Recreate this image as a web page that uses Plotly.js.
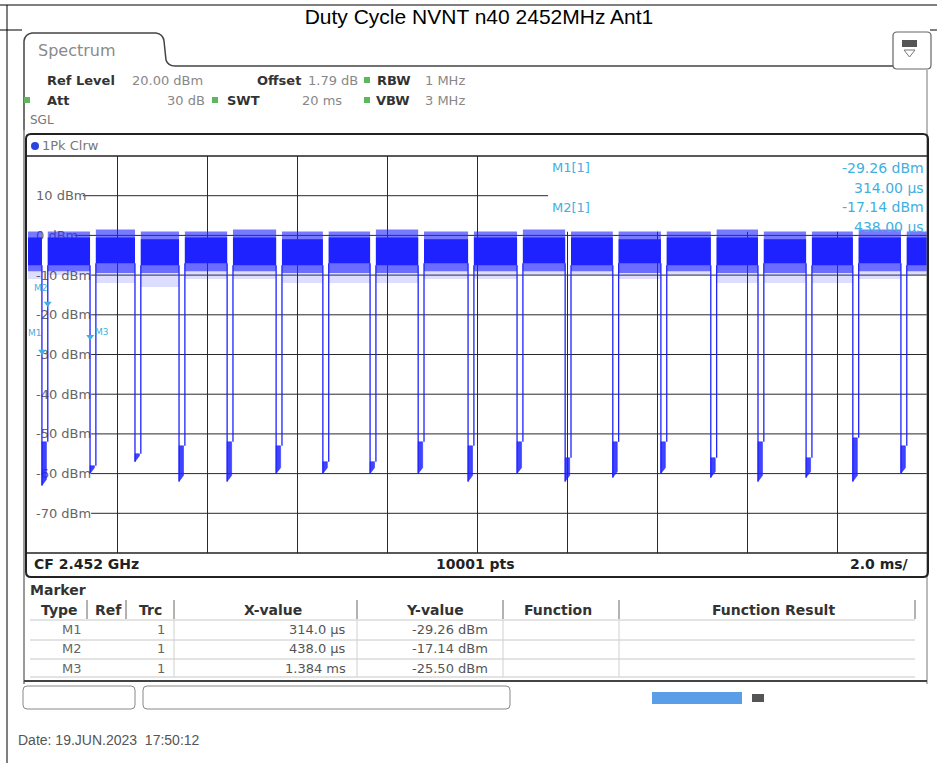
<!DOCTYPE html>
<html><head><meta charset="utf-8">
<script src="https://cdn.plot.ly/plotly-3.0.1.min.js"></script>
<style>html,body{margin:0;padding:0;background:#fff}#chart{width:937px;height:763px}</style>
</head><body><div id="chart"></div>
<script>
// ---------- data ----------
const titleText = 'Duty Cycle NVNT n40 2452MHz Ant1';
// burst-off gaps: falling edge / rising edge times (ms)
const gapFall = [0.31,1.38,2.38,3.36,4.43,5.52,6.56,7.61,8.68,9.79,10.88,11.95,13.01,14.08,15.19,16.24,17.31,18.35,19.42];
const gapRise = [0.44,1.51,2.51,3.49,4.56,5.65,6.69,7.74,8.81,9.92,11.01,12.08,13.14,14.21,15.32,16.37,17.44,18.48,19.55];
// level inside each gap (dBm)
const gapLow  = [-63,-60,-57,-62,-62,-60,-60,-60,-60,-62,-60,-62,-61,-60,-61,-62,-61,-62,-60];
const gapHigh = [-52,-58,-55,-53,-52,-53,-57,-57,-52,-53,-52,-56,-52,-52,-56,-52,-56,-51,-53];
// burst envelope (20 bursts), dBm
const burstPeakHigh = [1,1,1.5,1,1,1.5,1,1,1.5,1,1,1.5,1,1,1,1.5,1,1,1.5,1];
const burstCoreHigh = [-0.5,-0.5,-0.5,-1,-0.5,-0.5,-1,-0.5,-0.5,-1,-0.5,-0.5,-0.5,-1,-0.5,-0.5,-1,-0.5,-0.5,-0.5];
const burstCoreLow  = [-7.5,-7.5,-7,-7.5,-7,-7.5,-7.5,-7,-7.5,-7,-7.5,-7,-7.5,-7,-7.5,-7.5,-7,-7.5,-7,-7.5];
const burstPeakLow  = [-9,-9,-9.5,-9.5,-9,-9,-9.5,-9.5,-9.5,-9,-9,-9,-9,-9.5,-9,-9.5,-9.5,-9.5,-9,-9];
const burstSpikeLow = [-11,-10,-12,-13,-11,-11,-12,-12,-12,-11,-11,-10,-10,-11,-10,-12,-12,-12,-11,-10];
// axis
const yTickVals = [10,0,-10,-20,-30,-40,-50,-60,-70];
const xSpanMs = [0,20];
const yRange = [-80,20];
// markers
const markerNames = ['M1','M2','M3'];
const markerX = [0.314,0.438,1.384];   // ms
const markerY = [-29.26,-17.14,-25.50]; // dBm
const markerTrc = [1,1,1];

// ---------- helpers ----------
const FF = 'DejaVu Sans, sans-serif';
const L=28,R=927,T=156,B=553;
const px = X => (X-L)/(R-L);
const py = Y => (B-Y)/(B-T);
const ann = (X,Y,text,o={}) => ({xref:'paper',yref:'paper',x:px(X),y:py(Y),text,showarrow:false,
  xanchor:o.xa||'left',yanchor:'middle',font:{family:o.ff||FF,size:o.s||13,color:o.c||'#666'}});
const line = (X0,Y0,X1,Y1,c,w) => ({type:'line',xref:'paper',yref:'paper',x0:px(X0),y0:py(Y0),x1:px(X1),y1:py(Y1),line:{color:c,width:w},layer:'above'});
const rect = (X0,Y0,X1,Y1,fill,c,w) => ({type:'rect',xref:'paper',yref:'paper',x0:px(X0),y0:py(Y1),x1:px(X1),y1:py(Y0),fillcolor:fill,line:{color:c||'rgba(0,0,0,0)',width:w||0},layer:'above'});
function rrect(X0,Y0,X1,Y1,r,c,w,fill){
  const P=(X,Y)=>px(X)+','+py(Y);
  const d='M'+P(X0+r,Y0)+' L'+P(X1-r,Y0)+' Q'+P(X1,Y0)+' '+P(X1,Y0+r)+' L'+P(X1,Y1-r)+' Q'+P(X1,Y1)+' '+P(X1-r,Y1)+
    ' L'+P(X0+r,Y1)+' Q'+P(X0,Y1)+' '+P(X0,Y1-r)+' L'+P(X0,Y0+r)+' Q'+P(X0,Y0)+' '+P(X0+r,Y0)+' Z';
  return {type:'path',xref:'paper',yref:'paper',path:d,line:{color:c,width:w},fillcolor:fill||'rgba(0,0,0,0)',layer:'above'};
}
function pathShape(pts,c,w,fill){
  const d = pts.map((p,i)=>(i?(p[2]===undefined?'L':p[2]):'M')+px(p[0])+','+py(p[1])).join(' ');
  return {type:'path',xref:'paper',yref:'paper',path:d,line:{color:c,width:w},fillcolor:fill||'rgba(0,0,0,0)',layer:'above'};
}

// ---------- traces ----------
const nB = burstCoreHigh.length;
const bStart = k => k===0 ? xSpanMs[0] : gapRise[k-1];
const bEnd   = k => k===nB-1 ? xSpanMs[1] : gapFall[k];
function bandXY(hi,lo){
  const x=[],y=[];
  for(let k=0;k<nB;k++){
    x.push(bStart(k),bStart(k),bEnd(k),bEnd(k),bStart(k),null);
    y.push(lo[k],hi[k],hi[k],lo[k],lo[k],null);
  }
  return {x,y};
}
const BLUE='#1e22ff';
const CYAN='#3fb0e0';
const spike = bandXY(burstCoreHigh,burstSpikeLow);
const peak = bandXY(burstPeakHigh,burstPeakLow);
const core = bandXY(burstCoreHigh,burstCoreLow);
const blobX=[],blobY=[],edgeX=[],edgeY=[];
for(let k=0;k<gapFall.length;k++){
  blobX.push(gapFall[k],gapRise[k]-0.03,gapRise[k]-0.03,gapFall[k],gapFall[k],null);
  blobY.push(gapHigh[k],gapHigh[k],gapLow[k]+1.5,gapLow[k],gapHigh[k],null);
  edgeX.push(gapFall[k],gapFall[k],null,gapRise[k],gapRise[k],null);
  edgeY.push(burstCoreLow[k],gapLow[k],null,gapHigh[k],burstCoreLow[k+1],null);
}
const band = (d,fc) => ({x:d.x,y:d.y,type:'scatter',mode:'lines',fill:'toself',fillcolor:fc,line:{width:0,color:BLUE},hoverinfo:'skip'});
const traces = [
  band(spike,'rgba(40,45,255,0.16)'),
  band(peak,'rgba(35,40,255,0.62)'),
  band(core,BLUE),
  {x:blobX,y:blobY,type:'scatter',mode:'lines',fill:'toself',fillcolor:'rgba(30,34,255,0.85)',line:{width:0.5,color:BLUE},hoverinfo:'skip'},
  {x:edgeX,y:edgeY,type:'scatter',mode:'lines',line:{width:1.3,color:BLUE},hoverinfo:'skip'},
  {x:markerX,y:markerY,type:'scatter',mode:'markers',marker:{symbol:'triangle-down',size:7,color:CYAN},hoverinfo:'skip'}
];

// ---------- layout ----------
const shapes = [];
// grid lines (horizontal) start right after their labels
yTickVals.forEach(v=>{
  const lbl = v+' dBm';
  const x0 = (33 + lbl.length*8.3 - L)/((R-L)/20);
  shapes.push({type:'line',xref:'x',yref:'y',x0:x0,x1:xSpanMs[1],y0:v,y1:v,line:{color:'#2a2a2a',width:1},layer:'between'});
});
// white area for marker info
shapes.push({type:'rect',xref:'x',yref:'y',x0:11.57,x1:xSpanMs[1],y0:0.9,y1:yRange[1],fillcolor:'#fff',line:{width:0},layer:'between'});
// page frame
shapes.push(line(0,5,937,5,'#000',1), line(7,5,7,763,'#000',1), line(0,30,22,30,'#000',1), line(930,30,937,30,'#000',1));
// tab
shapes.push(pathShape([[24,130],[24,41],[25,34,'Q'],[32,33,''],[156,33],[163,34,'Q'],[164,41,''],[166,60],[168,66,'Q'],[175,66,''],[894,66]],'#444',1.5));
shapes.push(line(24,130,24,684,'#555',1.2), line(927,70,927,684,'#777',1));
// icon
shapes.push(rrect(893,32,931,69,4,'#666',1.2,'#fff'), rect(902,40,917,47,'#555'), pathShape([[904,50],[915,50],[909.5,57],[904,50]],'#777',1));
// plot frame
shapes.push(rrect(26,134,928,577,5,'#222',2), line(26,156,928,156,'#222',1.5), line(26,553,928,553,'#222',1.5));
shapes.push({type:'circle',xref:'paper',yref:'paper',x0:px(31),x1:px(39),y0:py(150),y1:py(142),fillcolor:'#2b44e0',line:{width:0},layer:'above'});
// green indicator squares
[[367,80],[27,100],[215,100],[367,100]].forEach(p=>shapes.push(rect(p[0]-3,p[1]-3,p[0]+3,p[1]+3,'#5cb85c')));
// marker table
shapes.push(line(24,681,927,681,'#444',2));
[87,126,174,357,503,619,915].forEach(X=>shapes.push(line(X,600,X,619,'#666',1)));
[620,640,659,677].forEach(Y=>shapes.push(line(30,Y,915,Y,'#c8c8c8',1)));
[174,357,503,619].forEach(X=>shapes.push(line(X,620,X,677,'#d0d0d0',1)));
// bottom boxes
shapes.push(rrect(23,686,135,709,4,'#888',1), rrect(143,686,510,709,4,'#888',1));
shapes.push(rect(652,692,742,704,'#5b9ee8'), rect(752,694,764,702,'#555'));

const annotations = [
  ann(36,51,'Spectrum',{s:16,c:'#8a8a8a'}),
  ann(45,80,'<b>Ref Level</b>',{c:'#333'}), ann(130,80,'20.00 dBm',{c:'#888'}),
  ann(255,80,'<b>Offset</b>',{c:'#333'}), ann(306,80,'1.79 dB',{c:'#888'}),
  ann(375,80,'<b>RBW</b>',{c:'#333'}), ann(423,80,'1 MHz',{c:'#888'}),
  ann(45,100,'<b>Att</b>',{c:'#333'}), ann(207,100,'30 dB',{c:'#888',xa:'right'}),
  ann(225,100,'<b>SWT</b>',{c:'#333'}), ann(300,100,'20 ms',{c:'#888'}),
  ann(374,100,'<b>VBW</b>',{c:'#333'}), ann(423,100,'3 MHz',{c:'#888'}),
  ann(28,120,'SGL',{s:12,c:'#777'}),
  ann(40,145,'1Pk Clrw',{s:13,c:'#777'}),
  ann(32,564,'<b>CF 2.452 GHz</b>',{s:14,c:'#222'}),
  ann(475,564,'<b>10001 pts</b>',{s:14,c:'#222',xa:'center'}),
  ann(911,564,'<b>2.0 ms/</b>',{s:14,c:'#222',xa:'right'}),
  ann(28,590,'<b>Marker</b>',{s:14,c:'#333'}),
  ann(59,610,'<b>Type</b>',{s:14,c:'#333',xa:'center'}),
  ann(108,610,'<b>Ref</b>',{s:14,c:'#333',xa:'center'}),
  ann(150,610,'<b>Trc</b>',{s:14,c:'#333',xa:'center'}),
  ann(273,610,'<b>X-value</b>',{s:14,c:'#333',xa:'center'}),
  ann(435,610,'<b>Y-value</b>',{s:14,c:'#333',xa:'center'}),
  ann(558,610,'<b>Function</b>',{s:14,c:'#333',xa:'center'}),
  ann(773,610,'<b>Function Result</b>',{s:14,c:'#333',xa:'center'}),
  ann(16,740,'Date: 19.JUN.2023  17:50:12',{s:14,c:'#555',ff:'Liberation Sans, Arial, sans-serif'})
];
const fmtX = v => v < 1 ? (v*1000).toFixed(1)+' µs' : v.toFixed(3)+' ms';
// label placement for the on-trace marker names (pixels)
const mLabelPos = [{xa:'right',xs:2,ys:19},{xa:'right',xs:2,ys:15},{xa:'left',xs:3,ys:5}];
markerNames.forEach((n,i)=>{
  const Y = 629 + i*19.5;
  annotations.push(ann(84,Y,n,{s:13,c:'#666',xa:'right'}), ann(167,Y,String(markerTrc[i]),{s:13,c:'#666',xa:'right'}),
    ann(348,Y,fmtX(markerX[i]),{s:13,c:'#555',xa:'right'}), ann(490,Y,markerY[i].toFixed(2)+' dBm',{s:13,c:'#555',xa:'right'}));
  const p = mLabelPos[i];
  annotations.push({xref:'x',yref:'y',x:markerX[i],y:markerY[i],text:n,showarrow:false,xanchor:p.xa,yanchor:'middle',xshift:p.xs,yshift:p.ys,
    font:{family:FF,size:9,color:CYAN}});
});
// marker info at top right of the diagram (first two markers)
[0,1].forEach(i=>{
  const Y0 = 168 + i*39.5;
  annotations.push(ann(550,Y0,markerNames[i]+'[1]',{s:13,c:CYAN}),
    ann(926,Y0,markerY[i].toFixed(2)+' dBm',{s:14,c:CYAN,xa:'right'}),
    ann(926,Y0+19.5,(markerX[i]*1000).toFixed(2)+' µs',{s:14,c:CYAN,xa:'right'}));
});

const layout = {
  width:937,height:763,paper_bgcolor:'#fff',plot_bgcolor:'#fff',showlegend:false,
  margin:{l:L,r:937-R,t:T,b:763-B,pad:0},
  title:{text:titleText,xref:'container',yref:'container',x:479/937,xanchor:'center',y:1-17/763,yanchor:'middle',
    font:{family:'Liberation Sans, Arial, sans-serif',size:21,color:'#000'}},
  xaxis:{range:xSpanMs,dtick:2,tick0:0,showgrid:true,gridcolor:'#2a2a2a',gridwidth:1,showticklabels:false,zeroline:false,showline:false,ticks:'',fixedrange:true},
  yaxis:{range:yRange,tickvals:yTickVals,ticktext:yTickVals.map(v=>v+' dBm'),ticklabelposition:'inside',ticklabelstandoff:5,
    layer:'below traces',showgrid:false,zeroline:false,showline:false,ticks:'',tickfont:{family:FF,size:13,color:'#666'},fixedrange:true},
  shapes, annotations
};
Plotly.newPlot('chart',traces,layout,{staticPlot:true,displayModeBar:false});
</script></body></html>
